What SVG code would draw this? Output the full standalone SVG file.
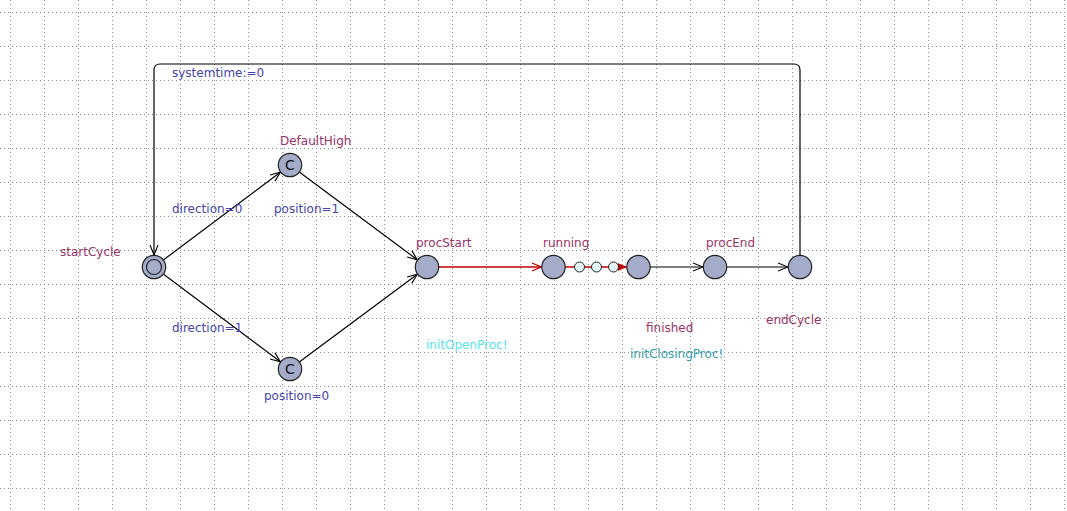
<svg xmlns="http://www.w3.org/2000/svg" width="1067" height="511" viewBox="0 0 1067 511">
<defs>
<style>
.grid line{stroke:#8c8c8c;stroke-width:1;stroke-dasharray:1 3}
.edge{fill:none;stroke:#000;stroke-width:1.2}
.red{fill:none;stroke:#c00000;stroke-width:1.3}
.loc{fill:#a5acc9;stroke:#222;stroke-width:1.2}
.nail{fill:#e4f7f9;stroke:#222;stroke-width:1}
text{font-family:"DejaVu Sans",sans-serif;font-size:12px}
.name{fill:#993366}
.asg{fill:#4444aa}
.sync1{fill:#55e4f0}
.sync2{fill:#33a0a8}
.c{fill:#111;font-size:14px}
</style>
<marker id="arr" viewBox="0 0 10 10" refX="10" refY="5" markerWidth="10" markerHeight="10" markerUnits="userSpaceOnUse" orient="auto">
<path d="M0,1 L10,5 L0,9" fill="none" stroke="#000" stroke-width="1.1"/>
</marker>
<marker id="arrRed" viewBox="0 0 10 10" refX="10" refY="5" markerWidth="10" markerHeight="10" markerUnits="userSpaceOnUse" orient="auto">
<path d="M0,1 L10,5 L0,9" fill="none" stroke="#c00000" stroke-width="1.1"/>
</marker>
<marker id="arrRedFill" viewBox="0 0 10 10" refX="10" refY="5" markerWidth="9" markerHeight="9" markerUnits="userSpaceOnUse" orient="auto">
<path d="M0,1 L10,5 L0,9 Z" fill="#c00000" stroke="#c00000" stroke-width="0.8"/>
</marker>
</defs>
<rect width="1067" height="511" fill="#fff"/>
<g class="grid">
<line x1="10.5" y1="0" x2="10.5" y2="511"/><line x1="44.5" y1="0" x2="44.5" y2="511"/><line x1="78.5" y1="0" x2="78.5" y2="511"/><line x1="112.5" y1="0" x2="112.5" y2="511"/><line x1="146.5" y1="0" x2="146.5" y2="511"/><line x1="180.5" y1="0" x2="180.5" y2="511"/><line x1="214.5" y1="0" x2="214.5" y2="511"/><line x1="248.5" y1="0" x2="248.5" y2="511"/><line x1="282.5" y1="0" x2="282.5" y2="511"/><line x1="316.5" y1="0" x2="316.5" y2="511"/><line x1="350.5" y1="0" x2="350.5" y2="511"/><line x1="384.5" y1="0" x2="384.5" y2="511"/><line x1="418.5" y1="0" x2="418.5" y2="511"/><line x1="452.5" y1="0" x2="452.5" y2="511"/><line x1="486.5" y1="0" x2="486.5" y2="511"/><line x1="520.5" y1="0" x2="520.5" y2="511"/><line x1="554.5" y1="0" x2="554.5" y2="511"/><line x1="588.5" y1="0" x2="588.5" y2="511"/><line x1="622.5" y1="0" x2="622.5" y2="511"/><line x1="656.5" y1="0" x2="656.5" y2="511"/><line x1="690.5" y1="0" x2="690.5" y2="511"/><line x1="724.5" y1="0" x2="724.5" y2="511"/><line x1="758.5" y1="0" x2="758.5" y2="511"/><line x1="792.5" y1="0" x2="792.5" y2="511"/><line x1="826.5" y1="0" x2="826.5" y2="511"/><line x1="860.5" y1="0" x2="860.5" y2="511"/><line x1="894.5" y1="0" x2="894.5" y2="511"/><line x1="928.5" y1="0" x2="928.5" y2="511"/><line x1="962.5" y1="0" x2="962.5" y2="511"/><line x1="996.5" y1="0" x2="996.5" y2="511"/><line x1="1030.5" y1="0" x2="1030.5" y2="511"/><line x1="1064.5" y1="0" x2="1064.5" y2="511"/>
<line x1="0" y1="12.5" x2="1067" y2="12.5"/><line x1="0" y1="46.5" x2="1067" y2="46.5"/><line x1="0" y1="80.5" x2="1067" y2="80.5"/><line x1="0" y1="114.5" x2="1067" y2="114.5"/><line x1="0" y1="148.5" x2="1067" y2="148.5"/><line x1="0" y1="182.5" x2="1067" y2="182.5"/><line x1="0" y1="216.5" x2="1067" y2="216.5"/><line x1="0" y1="250.5" x2="1067" y2="250.5"/><line x1="0" y1="284.5" x2="1067" y2="284.5"/><line x1="0" y1="318.5" x2="1067" y2="318.5"/><line x1="0" y1="352.5" x2="1067" y2="352.5"/><line x1="0" y1="386.5" x2="1067" y2="386.5"/><line x1="0" y1="420.5" x2="1067" y2="420.5"/><line x1="0" y1="454.5" x2="1067" y2="454.5"/><line x1="0" y1="488.5" x2="1067" y2="488.5"/>
</g>
<g id="connectors">
<line class="edge" x1="163.6" y1="259.8" x2="280.4" y2="172.2" marker-end="url(#arr)"/>
<line class="edge" x1="299.6" y1="172.2" x2="417.4" y2="259.8" marker-end="url(#arr)"/>
<line class="edge" x1="163.6" y1="274.2" x2="280.4" y2="361.8" marker-end="url(#arr)"/>
<line class="edge" x1="299.6" y1="361.8" x2="417.4" y2="274.2" marker-end="url(#arr)"/>
<line class="red" x1="439" y1="267" x2="541.5" y2="267" marker-end="url(#arrRed)"/>
<line class="red" x1="565" y1="267" x2="626.5" y2="267" marker-end="url(#arrRedFill)"/>
<line class="edge" x1="650" y1="267" x2="703" y2="267" marker-end="url(#arr)"/>
<line class="edge" x1="727" y1="267" x2="788" y2="267" marker-end="url(#arr)"/>
<path class="edge" d="M800,255 L800,70 Q800,64 794,64 L160,64 Q154,64 154,70 L154,255" marker-end="url(#arr)"/>
<circle class="nail" cx="579.5" cy="267" r="5"/>
<circle class="nail" cx="596.5" cy="267" r="5"/>
<circle class="nail" cx="613.5" cy="267" r="5"/>
<text class="asg" x="172" y="77">systemtime:=0</text>
<text class="asg" x="172" y="213">direction=0</text>
<text class="asg" x="274" y="213">position=1</text>
<text class="asg" x="172" y="332">direction=1</text>
<text class="asg" x="264" y="400">position=0</text>
<text class="sync1" x="426" y="349">initOpenProc!</text>
<text class="sync2" x="630" y="358">initClosingProc!</text>
</g>
<g id="startCycle">
<circle class="loc" cx="154" cy="267" r="11.7"/>
<circle class="loc" cx="154" cy="267" r="7.5"/>
<text class="name" x="60" y="256">startCycle</text>
</g>
<g id="DefaultHigh">
<circle class="loc" cx="290" cy="165" r="11.7"/>
<text class="c" x="290" y="170" text-anchor="middle">C</text>
<text class="name" x="280" y="145">DefaultHigh</text>
</g>
<g id="DefaultLow">
<circle class="loc" cx="290" cy="369" r="11.7"/>
<text class="c" x="290" y="374" text-anchor="middle">C</text>
</g>
<g id="procStart">
<circle class="loc" cx="427" cy="267" r="11.7"/>
<text class="name" x="416" y="247">procStart</text>
</g>
<g id="running">
<circle class="loc" cx="553.5" cy="267" r="11.7"/>
<text class="name" x="543" y="247">running</text>
</g>
<g id="finished">
<circle class="loc" cx="638.5" cy="267" r="11.7"/>
<text class="name" x="646" y="332">finished</text>
</g>
<g id="procEnd">
<circle class="loc" cx="715" cy="267" r="11.7"/>
<text class="name" x="706" y="247">procEnd</text>
</g>
<g id="endCycle">
<circle class="loc" cx="800" cy="267" r="11.7"/>
<text class="name" x="766" y="324">endCycle</text>
</g>
</svg>
